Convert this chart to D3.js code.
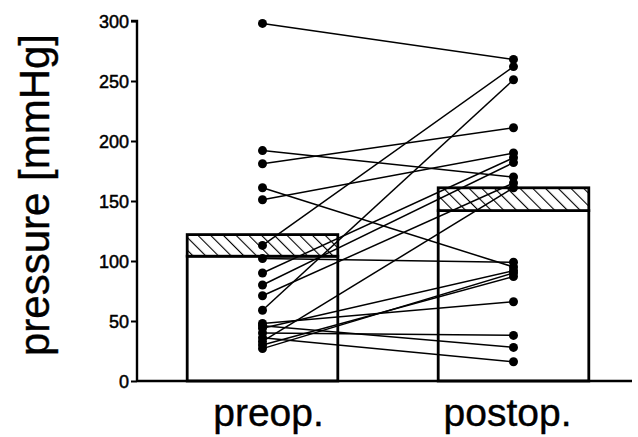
<!DOCTYPE html>
<html>
<head>
<meta charset="utf-8">
<script src="https://cdn.jsdelivr.net/npm/d3@7"></script>
<style>
  html, body { margin: 0; padding: 0; background: #fff; }
  svg { display: block; }
  text { font-family: "Liberation Sans", Arial, sans-serif; fill: #000; }
</style>
</head>
<body>
<svg id="chart" width="638" height="437"></svg>
<script>
// ---- data ----
const categories = ["preop.", "postop."];
const barMeans = [104, 142];
const barSEM = [18, 19];
const preop  = [298, 192, 181, 161, 151, 113, 102, 90, 80, 71, 59, 48, 46, 44, 40, 36, 33, 30, 27];
const postop = [268, 170, 211, 95, 190, 262, 99, 186, 182, 165, 251, 66, 28, 92, 38, 16, 161, 87, 90];
const yTicks = [0, 50, 100, 150, 200, 250, 300];
const yLabel = "pressure [mmHg]";

// ---- layout ----
const svg = d3.select("#chart");
const axisX = 137, axisBottom = 381, axisTop = 21, axisRight = 632;

const y = d3.scaleLinear().domain([0, 300]).range([axisBottom, axisTop]);
const x = d3.scalePoint().domain(categories).range([axisX, 639]).padding(0.5);
const barW = x.step() * 0.6;

// hatch pattern
const defs = svg.append("defs");
const pat = defs.append("pattern")
  .attr("id", "hatch").attr("patternUnits", "userSpaceOnUse")
  .attr("width", 9).attr("height", 9)
  .attr("patternTransform", "rotate(-45)");
pat.append("rect").attr("width", 9).attr("height", 9).attr("fill", "#fff");
pat.append("line").attr("x1", 0).attr("y1", 0).attr("x2", 0).attr("y2", 9)
  .attr("stroke", "#000").attr("stroke-width", 2.2);

// bars
const bars = svg.append("g");
categories.forEach((c, i) => {
  const cx = x(c);
  bars.append("rect")
    .attr("x", cx - barW / 2).attr("y", y(barMeans[i]))
    .attr("width", barW).attr("height", y(0) - y(barMeans[i]))
    .attr("fill", "#fff").attr("stroke", "#000").attr("stroke-width", 2.8);
  bars.append("rect")
    .attr("x", cx - barW / 2).attr("y", y(barMeans[i] + barSEM[i]))
    .attr("width", barW).attr("height", y(barMeans[i]) - y(barMeans[i] + barSEM[i]))
    .attr("fill", "url(#hatch)").attr("stroke", "#000").attr("stroke-width", 2.8);
});

// paired lines
const lines = svg.append("g");
preop.forEach((v, i) => {
  lines.append("line")
    .attr("x1", x(categories[0])).attr("y1", y(v))
    .attr("x2", x(categories[1])).attr("y2", y(postop[i]))
    .attr("stroke", "#000").attr("stroke-width", 1.5);
});
// dots
const dots = svg.append("g");
[preop, postop].forEach((arr, k) => {
  dots.selectAll(null).data(arr).enter().append("circle")
    .attr("cx", x(categories[k])).attr("cy", d => y(d))
    .attr("r", 4.5).attr("fill", "#000");
});

// y axis
const yAxis = d3.axisLeft(y).tickValues(yTicks).tickSize(6).tickPadding(2);
const gy = svg.append("g").attr("transform", `translate(${axisX},0)`).call(yAxis);
gy.select(".domain").attr("stroke-width", 2.4).attr("d", `M-6,${axisTop}H0V${axisBottom}`);
gy.selectAll(".tick line").attr("stroke-width", 2);
gy.selectAll(".tick text").attr("font-size", 18).attr("font-family", "Liberation Sans, Arial, sans-serif")
  .attr("stroke", "#000").attr("stroke-width", 0.5)
  .attr("dy", "0.36em");

// x axis line
svg.append("line").attr("x1", axisX).attr("x2", axisRight)
  .attr("y1", axisBottom).attr("y2", axisBottom)
  .attr("stroke", "#000").attr("stroke-width", 2.6);

// x labels
svg.append("g").selectAll("text").data(categories).enter().append("text")
  .attr("x", d => x(d) + (d === categories[0] ? 6 : -6)).attr("y", 426)
  .attr("text-anchor", "middle").attr("font-size", 39)
  .attr("stroke", "#000").attr("stroke-width", 0.4)
  .text(d => d);

// y label
svg.append("text")
  .attr("transform", `translate(49,${(28 + 362) / 2}) rotate(-90)`)
  .attr("text-anchor", "middle").attr("font-size", 42)
  .attr("stroke", "#000").attr("stroke-width", 0.4)
  .text(yLabel);
</script>
</body>
</html>
